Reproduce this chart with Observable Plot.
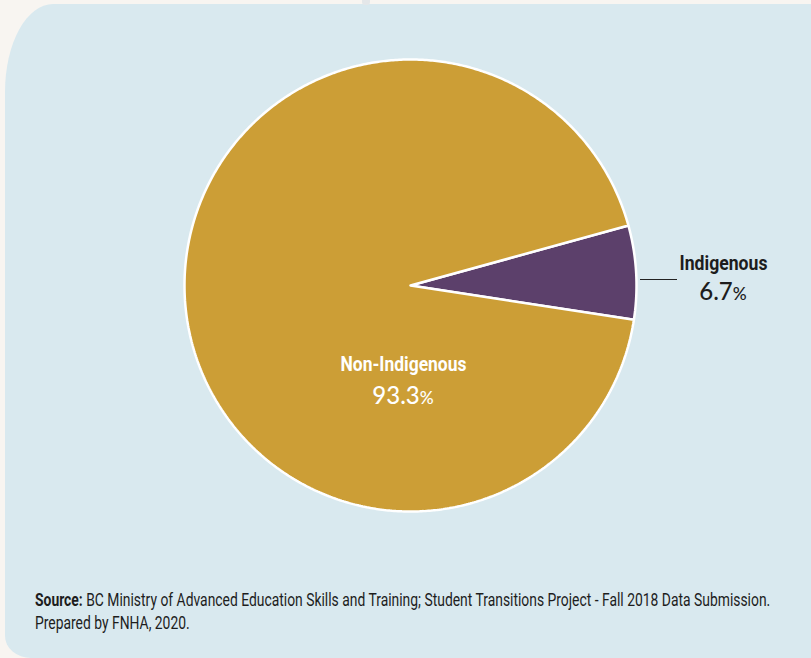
<!DOCTYPE html>
<html>
<head>
<meta charset="utf-8">
<script src="https://cdn.jsdelivr.net/npm/d3@7"></script>
<script src="https://cdn.jsdelivr.net/npm/@observablehq/plot@0.6"></script>
<style>
  html, body { margin: 0; padding: 0; }
  body { width: 811px; height: 658px; background: #F8F5F1; position: relative; overflow: hidden; }
  #panel { position: absolute; left: 5px; top: 4px; width: 840px; height: 654px; background: #D9E9EF;
           border-radius: 48px 22px 0 26px / 88px 22px 0 22px; }
  #nub { position: absolute; left: 362px; top: 0; width: 8px; height: 5px; background: #E4E7E9; border-radius: 0 0 3px 3px; }
  #chart { position: absolute; left: 0; top: 0; }
  #caption { position: absolute; left: 35px; top: 588px; font-family: Roboto, "DejaVu Sans Condensed", sans-serif;
             font-size: 19px; line-height: 23px; color: #1d1d1d; transform-origin: 0 0; white-space: nowrap; }
  #caption b { font-weight: bold; }
  #caption span { display: inline-block; }
</style>
</head>
<body>
<div id="panel"></div>
<div id="nub"></div>
<div id="chart"></div>
<div id="caption"><span id="line1"><b>Source:</b> BC Ministry of Advanced Education Skills and Training; Student Transitions Project - Fall 2018 Data Submission.</span><br><span>Prepared by FNHA, 2020.</span></div>
<script>
// ---- data ----
const categories = ["Indigenous", "Non-Indigenous"];
const shares = [6.7, 93.3];
const colors = ["#5C406B", "#CC9E36"];

// ---- layout ----
const W = 811, H = 560;
const cx = 410, cy = 285, R = 226;          // pie centre and radius in pixels
const rotation = 74.6 * Math.PI / 180;      // start angle of first slice (clockwise from 12 o'clock)
const ux = px => (px - cx) / R;             // pixel -> unit coordinates
const uy = py => (cy - py) / R;

const arcs = d3.pie().sort(null).startAngle(rotation).endAngle(rotation + 2 * Math.PI)(shares);

const slices = arcs.map((a, i) => {
  const n = Math.max(8, Math.ceil((a.endAngle - a.startAngle) / (Math.PI / 360)));
  const pts = [{x: 0, y: 0}];
  for (let k = 0; k <= n; k++) {
    const t = a.startAngle + (a.endAngle - a.startAngle) * k / n;
    pts.push({x: Math.sin(t), y: Math.cos(t)});
  }
  pts.push({x: 0, y: 0});
  return {label: categories[i], value: shares[i], color: colors[i], pts};
});

const inner = {label: categories[1], value: shares[1]};
const outer = {label: categories[0], value: shares[0]};
const labelFont = "Roboto";
const pctFont = "Lato";

const chart = Plot.plot({
  width: W, height: H,
  margin: 0,
  style: {background: "transparent", overflow: "visible"},
  x: {domain: [ux(0), ux(W)], range: [0, W], axis: null},
  y: {domain: [uy(H), uy(0)], range: [H, 0], axis: null},
  marks: [
    ...slices.map(s => Plot.line(s.pts, {x: "x", y: "y", fill: s.color, stroke: "white", strokeWidth: 2.5, strokeLinejoin: "miter"})),
    Plot.ruleY([uy(279)], {x1: ux(640), x2: ux(677), stroke: "#222", strokeWidth: 1.2}),
    Plot.text([inner], {x: ux(403), y: uy(363.5), text: d => d.label, fill: "white", fontFamily: labelFont, fontWeight: "bold", fontSize: 20.5}),
    Plot.text([inner], {x: ux(402.5), y: uy(395.5), text: d => d.value.toFixed(1) + "%", fill: "white", fontFamily: pctFont, fontWeight: 500, fontSize: 24}),
    Plot.text([outer], {x: ux(723), y: uy(262.5), text: d => d.label, fill: "#1d1d1d", fontFamily: labelFont, fontWeight: "bold", fontSize: 20.5}),
    Plot.text([outer], {x: ux(722.5), y: uy(291.5), text: d => d.value.toFixed(1) + "%", fill: "#1d1d1d", fontFamily: pctFont, fontWeight: 500, fontSize: 24})
  ]
});
document.getElementById("chart").appendChild(chart);

// condense the label texts to the narrow widths of the original typeface
const targetWidths = {"Non-Indigenous": 126, "Indigenous": 88};
d3.select(chart).selectAll("text").each(function() {
  const t = this.textContent;
  if (t.endsWith("%")) {
    // smaller percent sign, as in the original
    const num = t.slice(0, -1);
    this.textContent = num;
    const ts = document.createElementNS("http://www.w3.org/2000/svg", "tspan");
    ts.setAttribute("font-size", "0.72em");
    ts.textContent = "%";
    this.appendChild(ts);
    return;
  }
  if (!(t in targetWidths)) return;
  const len = this.getComputedTextLength();
  const s = targetWidths[t] / len;
  const b = this.getBBox();
  const c = b.x + b.width / 2;
  const prev = this.getAttribute("transform") || "";
  this.setAttribute("transform", `${prev} translate(${c},0) scale(${s},1) translate(${-c},0)`);
});

// condense the caption the same way
const cap = document.getElementById("caption");
const line1 = document.getElementById("line1");
cap.style.transform = `scaleX(${735 / line1.offsetWidth})`;
</script>
</body>
</html>
